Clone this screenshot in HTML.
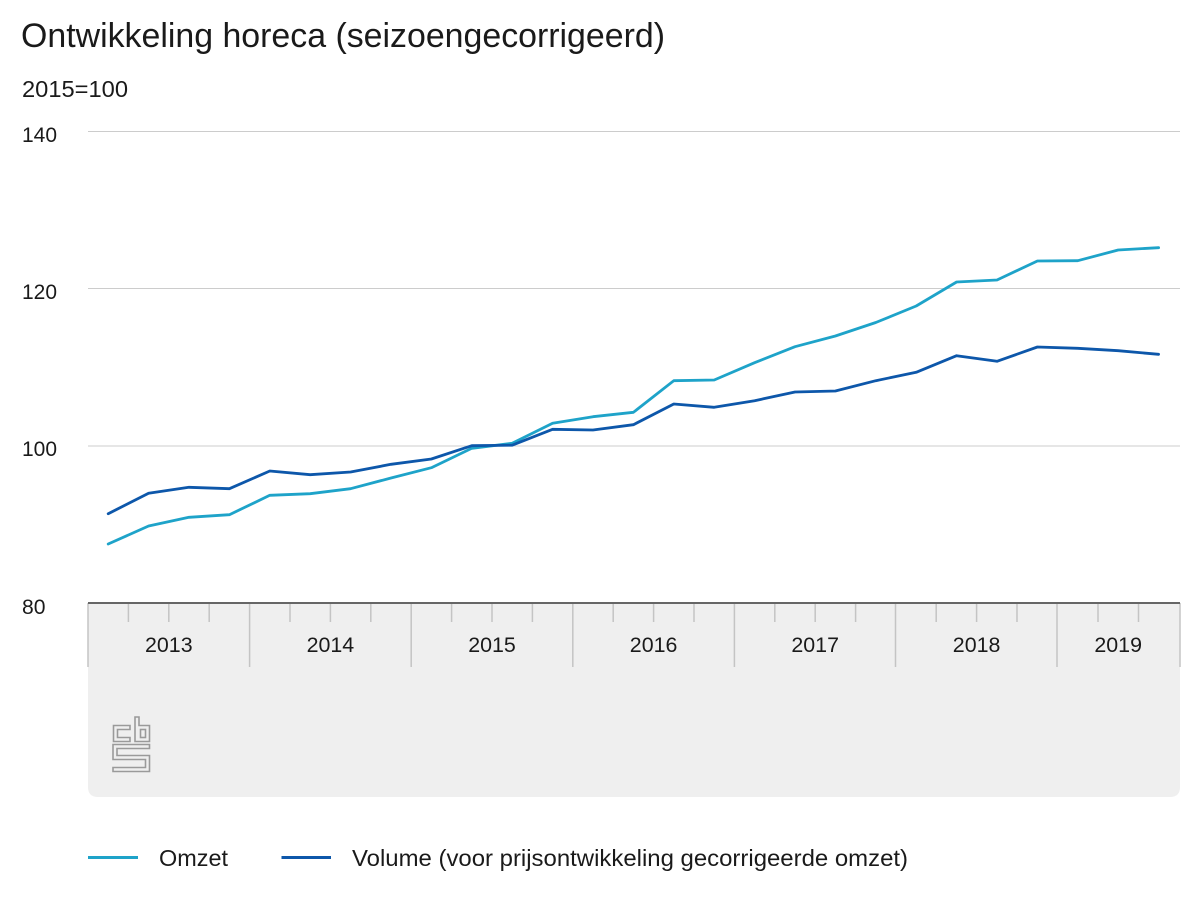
<!DOCTYPE html>
<html>
<head>
<meta charset="utf-8">
<style>
  html, body { margin: 0; padding: 0; background: #ffffff; }
  body { width: 1200px; height: 900px; overflow: hidden; }
  svg { display: block; }
  text { font-family: "Liberation Sans", Arial, sans-serif; fill: #1a1a1a; }
</style>
</head>
<body>
<svg width="1200" height="900" viewBox="0 0 1200 900" xmlns="http://www.w3.org/2000/svg">
  <!-- Title -->
  <text x="21" y="47" font-size="34" textLength="644" lengthAdjust="spacingAndGlyphs">Ontwikkeling horeca (seizoengecorrigeerd)</text>
  <text x="22" y="97" font-size="23.5" textLength="106" lengthAdjust="spacingAndGlyphs">2015=100</text>

  <!-- Y tick labels -->
  <text x="22" y="142" font-size="21" textLength="35" lengthAdjust="spacingAndGlyphs">140</text>
  <text x="22" y="299" font-size="21" textLength="35" lengthAdjust="spacingAndGlyphs">120</text>
  <text x="22" y="456" font-size="21" textLength="35" lengthAdjust="spacingAndGlyphs">100</text>
  <text x="22" y="614" font-size="21" textLength="23.5" lengthAdjust="spacingAndGlyphs">80</text>

  <!-- Gridlines -->
  <g stroke="#cccccc" stroke-width="1">
    <line x1="88" y1="131.5" x2="1180" y2="131.5"/>
    <line x1="88" y1="288.5" x2="1180" y2="288.5"/>
    <line x1="88" y1="446" x2="1180" y2="446"/>
  </g>

  <!-- Gray axis box with rounded bottom corners -->
  <path d="M88,603 H1180 V787 Q1180,797 1170,797 H98 Q88,797 88,787 Z" fill="#efefef"/>

  <!-- Year separators -->
  <g stroke="#c4c4c4" stroke-width="1.5">
    <line x1="88" y1="603" x2="88" y2="667"/>
    <line x1="249.6" y1="603" x2="249.6" y2="667"/>
    <line x1="411.2" y1="603" x2="411.2" y2="667"/>
    <line x1="572.8" y1="603" x2="572.8" y2="667"/>
    <line x1="734.4" y1="603" x2="734.4" y2="667"/>
    <line x1="895.5" y1="603" x2="895.5" y2="667"/>
    <line x1="1057" y1="603" x2="1057" y2="667"/>
    <line x1="1180" y1="603" x2="1180" y2="667"/>
  </g>
  <!-- Quarter ticks -->
  <g stroke="#c4c4c4" stroke-width="1.5">
    <line x1="128.4" y1="603" x2="128.4" y2="622"/>
    <line x1="168.8" y1="603" x2="168.8" y2="622"/>
    <line x1="209.2" y1="603" x2="209.2" y2="622"/>
    <line x1="290" y1="603" x2="290" y2="622"/>
    <line x1="330.4" y1="603" x2="330.4" y2="622"/>
    <line x1="370.8" y1="603" x2="370.8" y2="622"/>
    <line x1="451.6" y1="603" x2="451.6" y2="622"/>
    <line x1="492" y1="603" x2="492" y2="622"/>
    <line x1="532.4" y1="603" x2="532.4" y2="622"/>
    <line x1="613.2" y1="603" x2="613.2" y2="622"/>
    <line x1="653.6" y1="603" x2="653.6" y2="622"/>
    <line x1="694" y1="603" x2="694" y2="622"/>
    <line x1="774.8" y1="603" x2="774.8" y2="622"/>
    <line x1="815.2" y1="603" x2="815.2" y2="622"/>
    <line x1="855.6" y1="603" x2="855.6" y2="622"/>
    <line x1="936.2" y1="603" x2="936.2" y2="622"/>
    <line x1="976.6" y1="603" x2="976.6" y2="622"/>
    <line x1="1017" y1="603" x2="1017" y2="622"/>
    <line x1="1098" y1="603" x2="1098" y2="622"/>
    <line x1="1138.5" y1="603" x2="1138.5" y2="622"/>
  </g>

  <!-- Axis baseline -->
  <line x1="88" y1="603" x2="1180" y2="603" stroke="#666666" stroke-width="2"/>

  <!-- Year labels -->
  <g font-size="21.4" text-anchor="middle">
    <text x="168.8" y="652">2013</text>
    <text x="330.4" y="652">2014</text>
    <text x="492" y="652">2015</text>
    <text x="653.6" y="652">2016</text>
    <text x="815.2" y="652">2017</text>
    <text x="976.6" y="652">2018</text>
    <text x="1118.2" y="652">2019</text>
  </g>

  <!-- CBS logo -->
  <g fill="none" stroke="#9a9a9a" stroke-width="1.6" stroke-linejoin="miter">
    <path d="M130,725.5 H113.5 V741.5 H130 V737.5 H117.5 V729.5 H130 Z"/>
    <path d="M135,717 H139 V725.5 H149.5 V741.5 H135 Z"/>
    <rect x="140.5" y="729.5" width="5" height="8"/>
    <path d="M113,744.5 H149.5 V748.5 H117 V755.5 H149.5 V771.5 H113 V767.5 H145.5 V759.5 H113 Z"/>
  </g>

  <!-- Series: Omzet -->
  <polyline fill="none" stroke="#1ea3c9" stroke-width="2.8" stroke-linejoin="round" stroke-linecap="round"
    points="108.2,544 148.6,526 189,517.3 229.4,514.7 269.8,495.3 310.2,493.7 350.6,488.7 391,478 431.4,467.7 471.8,448.3 512.2,443.3 552.6,423.3 593,416.7 633.4,412.3 673.8,380.7 714.2,380 754.6,362.7 795,346.7 835.4,336 875.8,322.5 916.2,306 956.6,282 997,280 1037.4,261 1077.8,260.7 1118.2,250 1158.6,247.7"/>

  <!-- Series: Volume -->
  <polyline fill="none" stroke="#0d57aa" stroke-width="2.8" stroke-linejoin="round" stroke-linecap="round"
    points="108.2,513.7 148.6,493.3 189,487.3 229.4,488.7 269.8,471 310.2,474.7 350.6,472 391,464.3 431.4,459 471.8,445.7 512.2,445.2 552.6,429.3 593,430 633.4,424.7 673.8,404 714.2,407.3 754.6,400.7 795,392 835.4,391 875.8,380.7 916.2,372.3 956.6,355.7 997,361.3 1037.4,347 1077.8,348.3 1118.2,350.7 1158.6,354.3"/>

  <!-- Legend -->
  <line x1="88" y1="857.5" x2="138" y2="857.5" stroke="#1ea3c9" stroke-width="3"/>
  <text x="159" y="866" font-size="23.4" textLength="69" lengthAdjust="spacingAndGlyphs">Omzet</text>
  <line x1="281.5" y1="857.5" x2="331" y2="857.5" stroke="#0d57aa" stroke-width="3"/>
  <text x="352" y="866" font-size="23.4" textLength="556" lengthAdjust="spacingAndGlyphs">Volume (voor prijsontwikkeling gecorrigeerde omzet)</text>
</svg>
</body>
</html>
